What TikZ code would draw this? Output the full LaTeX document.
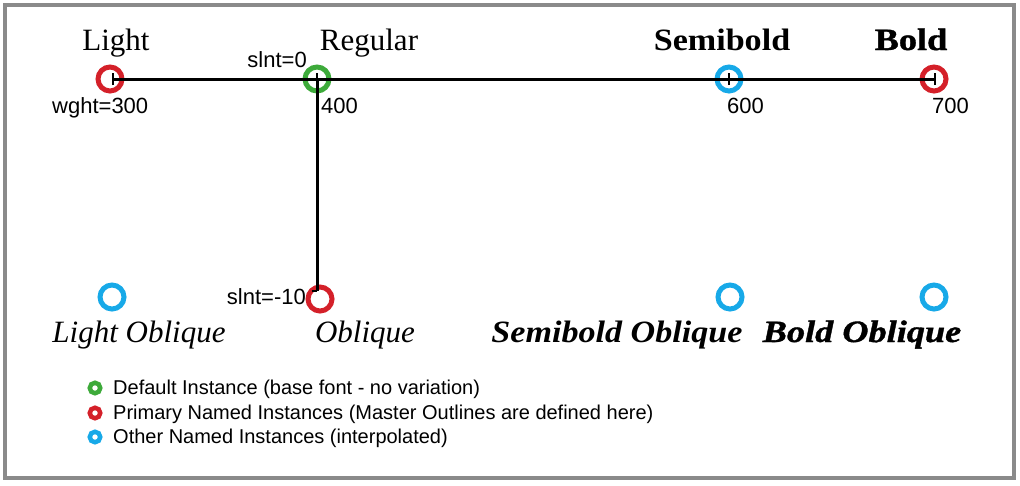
\documentclass[tikz,border=0pt]{standalone}
\usepackage{fontspec}
\setmainfont{Liberation Serif}
\newfontfamily\lsans{Liberation Sans}
\newfontfamily\semifont{Liberation Serif}[FakeStretch=1.1]
\newfontfamily\heavyfont{Liberation Serif}[FakeStretch=1.17, FakeBold=1.2]
\definecolor{cred}{HTML}{D42029}
\definecolor{cgreen}{HTML}{3DAA3A}
\definecolor{cblue}{HTML}{17A9E8}
\definecolor{cframe}{HTML}{8A8A8A}
\tikzset{
  framebox/.style={draw=cframe, line width=3.5pt},
  inst/.style={circle, line width=5pt, minimum size=24pt, inner sep=0pt},
  legcirc/.style={circle, line width=4.5pt, minimum size=10.5pt, inner sep=0pt},
  axisline/.style={line width=3pt, black},
  tickline/.style={line width=1.6pt, black},
  fname/.style={font=\fontsize{31}{34}\selectfont, inner sep=0pt},
  valtext/.style={font=\lsans\fontsize{22}{24}\selectfont, inner sep=0pt},
  legtext/.style={font=\lsans\fontsize{20}{22}\selectfont, inner sep=0pt, anchor=base west},
}
\begin{document}
\begin{tikzpicture}[x=1pt,y=-1pt]
\useasboundingbox (0,0) rectangle (1020,485);
\draw[framebox] (5,5) rectangle (1014,478);

% instance circles
\node[inst, draw=cred]   (light)   at (110,79) {};
\node[inst, draw=cgreen] (regular) at (317,79) {};
\node[inst, draw=cblue]  (semi)    at (729,79) {};
\node[inst, draw=cred]   (bold)    at (934,79) {};
\node[inst, draw=cblue]  (lobl)    at (112,297) {};
\node[inst, draw=cred]   (obl)     at (320,299) {};
\node[inst, draw=cblue]  (sobl)    at (730,297) {};
\node[inst, draw=cblue]  (bobl)    at (934,297) {};

% axis end points
\coordinate (lightp) at (113,79);
\coordinate (boldp)  at (935,79);
\coordinate (oblp)   at (317,291);
\coordinate (semip)  at (729,79);

\draw[axisline] (lightp) -- (boldp);
\draw[axisline] (regular.center) -- (oblp);
\draw[tickline] ([yshift=-6]lightp) -- ([yshift=6]lightp);
\draw[tickline] ([yshift=-6]boldp) -- ([yshift=6]boldp);
\draw[tickline] ([yshift=-6]semip) -- ([yshift=6]semip);
\draw[tickline] ([yshift=-6]regular.center) -- ([yshift=6]regular.center);
\draw[tickline] (oblp) -- ([xshift=-5]oblp);

% names
\node[fname, anchor=base] (tlight) at (116,50) {Light};
\node[fname, anchor=base] (treg)   at (369,50) {Regular};
\node[fname, anchor=base] (tsemi)  at (722,50) {\semifont\bfseries Semibold};
\node[fname, anchor=base] (tbold)  at (911,50) {\heavyfont\bfseries Bold};
\node[fname, anchor=base] (tlobl)  at (139,342) {\itshape Light Oblique};
\node[fname, anchor=base] (tobl)   at (365,342) {\itshape Oblique};
\node[fname, anchor=base] (tsobl)  at (617,342) {\semifont\bfseries\itshape Semibold Oblique};
\node[fname, anchor=base] (tbobl)  at (862,342) {\heavyfont\bfseries\itshape Bold Oblique};

% values
\node[valtext, anchor=base east] (s0)   at (307,67) {slnt=0};
\node[valtext, anchor=base west] (w300) at (52,113) {wght=300};
\node[valtext, anchor=base west] (w400) at (321,113) {400};
\node[valtext, anchor=base west] (w600) at (727,113) {600};
\node[valtext, anchor=base west] (w700) at (932,113) {700};
\node[valtext, anchor=base east] (s10)  at (306,304) {slnt=-10};

% legend
\node[legcirc, draw=cgreen] (lg1) at (95,388) {};
\node[legcirc, draw=cred]   (lg2) at (95,413) {};
\node[legcirc, draw=cblue]  (lg3) at (95,437) {};
\node[legtext] (lt1) at (113,394) {Default Instance (base font - no variation)};
\node[legtext] (lt2) at (113,419) {Primary Named Instances (Master Outlines are defined here)};
\node[legtext] (lt3) at (113,443) {Other Named Instances (interpolated)};
\end{tikzpicture}
\end{document}
